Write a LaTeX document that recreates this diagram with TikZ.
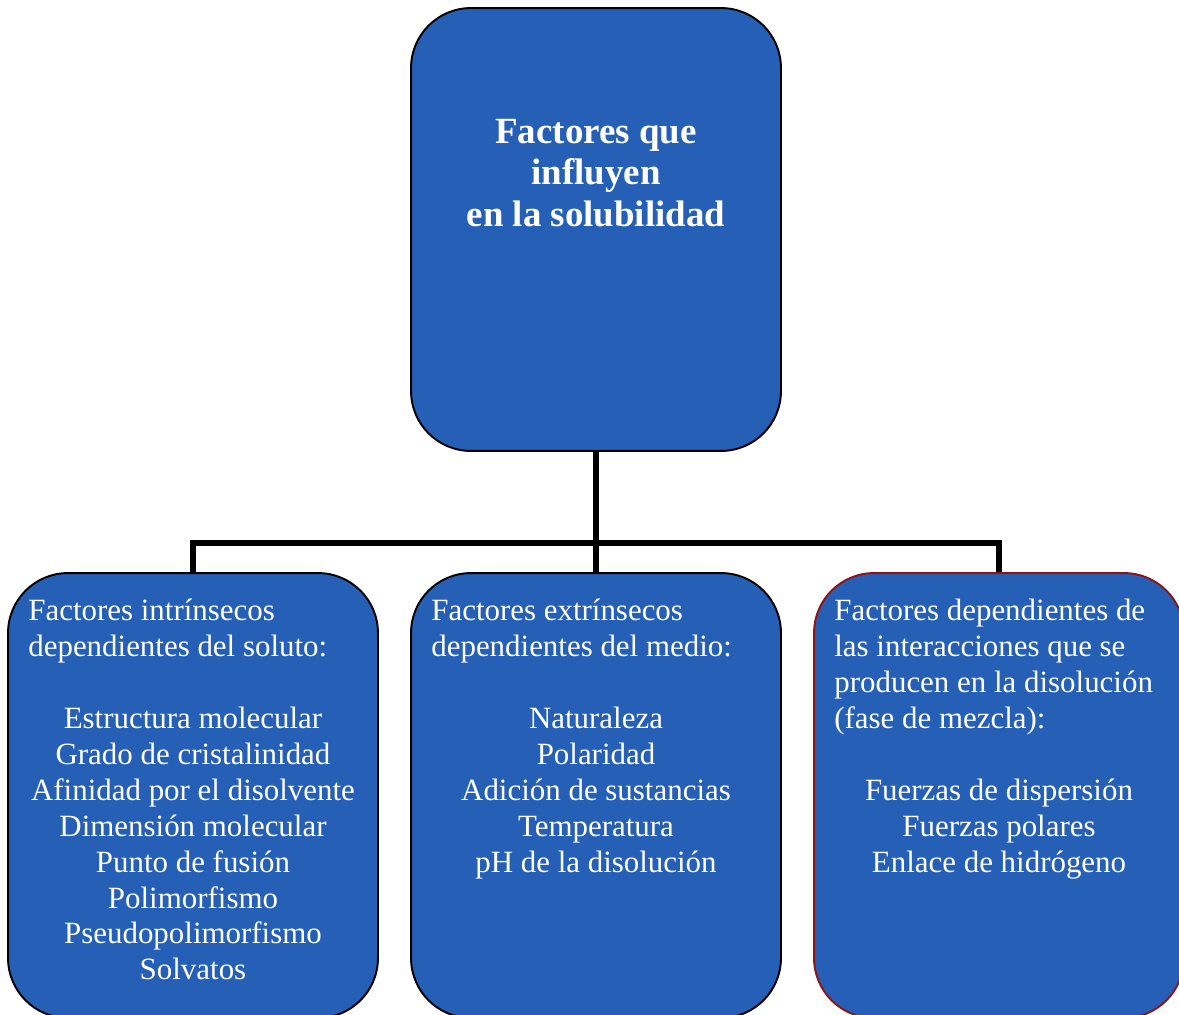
\documentclass[tikz,border=0pt]{standalone}
\usepackage{fontspec}
\setmainfont{Liberation Serif}
\usetikzlibrary{positioning}
\definecolor{boxblue}{RGB}{38,96,182}
\definecolor{edgered}{RGB}{140,22,22}

\begin{document}
\begin{tikzpicture}[x=0.02cm, y=-0.02cm,
  box/.style={rectangle, draw=black, line width=1.1pt, fill=boxblue,
              rounded corners=1.2cm, minimum width=7.4cm, minimum height=8.9cm},
  head/.style={anchor=north west, inner sep=0pt, align=left, text=white,
               font=\fontsize{17.6}{20.4}\selectfont},
  items/.style={anchor=north, inner sep=0pt, align=center, text=white,
                font=\fontsize{17.6}{20.4}\selectfont},
  title/.style={anchor=north, inner sep=0pt, align=center, text=white,
                font=\bfseries\fontsize{21}{23.5}\selectfont},
  link/.style={line width=3.2pt}
]
\useasboundingbox (0,0) rectangle (1179,1014);
% connectors
\coordinate (bar) at (596,543);
\coordinate (barL) at (193,543);
\coordinate (barR) at (999,543);
% main box
\node[box, minimum height=8.86cm] (main) at (596,229.5) {};
\node[title] (maintxt) at (596,119) {Factores que\\influyen\\en la solubilidad};
% lower boxes
\node[box] (intr) at (193,795.5) {};
\node[box] (extr) at (596,795.5) {};
\node[box, draw=edgered] (inter) at (999,795.5) {};
% texts
\node[head] (intrhead) at (28,599) {Factores intrínsecos\\dependientes del soluto:};
\node[items] (intritems) at (193,707) {Estructura molecular\\Grado de cristalinidad\\
  Afinidad por el disolvente\\Dimensión molecular\\Punto de fusión\\Polimorfismo\\
  Pseudopolimorfismo\\Solvatos};
\node[head] (extrhead) at (431,599) {Factores extrínsecos\\dependientes del medio:};
\node[items] (extritems) at (596,707) {Naturaleza\\Polaridad\\Adición de sustancias\\
  Temperatura\\pH de la disolución};
\node[head] (interhead) at (834,599) {Factores dependientes de\\las interacciones que se\\
  producen en la disolución\\(fase de mezcla):};
\node[items] (interitems) at (999,779) {Fuerzas de dispersión\\Fuerzas polares\\
  Enlace de hidrógeno};
% tree
\draw[link] (main.south) -- (bar);
\draw[link] (bar) -- (extr.north);
\draw[link, line cap=rect] (barL) -- (barR);
\draw[link] (barL) -- (intr.north);
\draw[link] (barR) -- (inter.north);
\end{tikzpicture}
\end{document}
